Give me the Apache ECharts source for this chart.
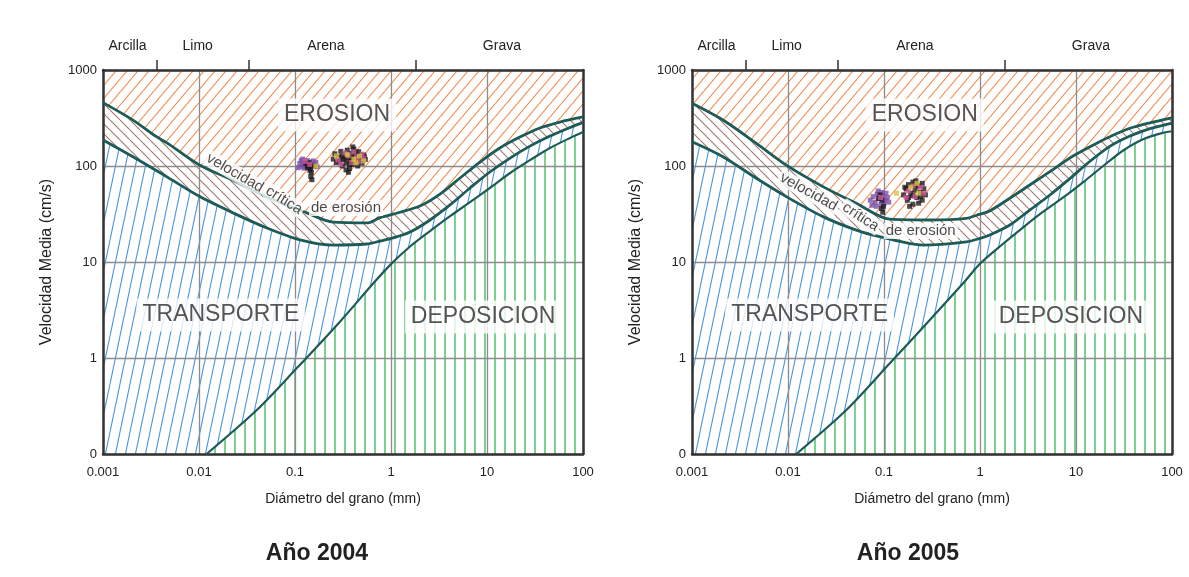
<!DOCTYPE html>
<html><head><meta charset="utf-8">
<script src="https://cdn.jsdelivr.net/npm/echarts@6/dist/echarts.min.js"></script>
<style>html,body{margin:0;padding:0;background:#fff}#c{width:1189px;height:577px}</style>
</head><body><div id="c"></div>
<script>
// ---------- data ----------
const classNames = ['Arcilla', 'Limo', 'Arena', 'Grava'];
const classLabelAt = [0.0018, 0.0097, 0.21, 14.3];   // mm, where the class names sit
const classBounds = [0.0036, 0.033, 1.8];            // mm, class boundaries (top ticks)
const panelTitles = ['Año 2004', 'Año 2005'];
const regionNames = ['EROSION', 'TRANSPORTE', 'DEPOSICION'];
const curveWords = ['velocidad', 'crítica', 'de erosión'];

// critical erosion velocity – upper bound [diameter mm, velocity cm/s]
const erosionUpper2004 = [[0.001,457],[0.00205,301],[0.0036,202],[0.00464,174],[0.0102,102],[0.0226,71],[0.051,47.5],[0.133,32.5],[0.249,26],[0.56,25.5],[0.77,29],[1.05,31.5],[1.24,33],[2.0,38.3],[3.24,51],[5.24,75],[8.45,110],[13.6,154],[22,200],[35.6,249],[57.5,287],[100,324]];
// critical erosion velocity – lower bound
const erosionLower2004 = [[0.001,187],[0.00205,125],[0.00464,77],[0.0102,48],[0.0226,32.5],[0.051,22.6],[0.113,17],[0.249,15],[0.56,15.4],[0.77,16.5],[1.05,17.8],[1.58,20.5],[2.55,27.4],[4.12,39.3],[6.65,59],[10.7,86.6],[17.4,121],[28,161],[45.3,205],[73.3,252],[100,285]];
// settling (deposition) velocity
const deposition2004 = [[0.012,0.1],[0.04,0.287],[0.104,0.78],[0.294,2.39],[0.655,6.0],[1.0,9.5],[1.58,14.5],[2.55,21],[4.12,30],[6.65,42],[10.7,59],[17.4,84.5],[28,115],[45.3,154],[73.3,196],[100,226]];

const erosionUpper2005 = [[0.001,450],[0.0021,301],[0.00468,172],[0.0096,102],[0.0231,61],[0.0515,40.8],[0.115,27.9],[0.3,27.4],[0.72,28.5],[1.0,31.5],[1.26,34],[2.1,47],[3.3,63.4],[5.35,87.3],[8.7,122],[14,159],[22.5,202],[36.5,247],[59,282],[100,318]];
const erosionLower2005 = [[0.001,179],[0.0021,125],[0.00468,74.5],[0.0096,48],[0.0231,29.7],[0.0515,21.5],[0.09,18.4],[0.255,15],[0.72,16.2],[1.0,17.6],[1.26,19.1],[2.05,24.3],[3.3,34.8],[5.35,49.9],[8.7,74.5],[14,112],[22.5,160],[36.5,205],[59,245],[100,280]];
const deposition2005 = [[0.0122,0.1],[0.0405,0.287],[0.115,0.88],[0.3,2.49],[0.667,6.0],[1.0,9.6],[1.74,15.5],[2.82,23],[4.55,33.4],[7.36,47],[11.9,68],[19.2,100],[31,145],[50,190],[81,222],[100,230]];

// measured samples (clusters of points)
const purple2004 = [[0.112,106],[0.116,114],[0.118,99],[0.122,101],[0.127,109],[0.131,98],[0.134,114],[0.138,104],[0.142,110],[0.146,99],[0.15,107],[0.155,113],[0.16,103],[0.124,95],[0.165,109],[0.17,98],[0.108,96],[0.12,118]];
const black2004 = [[0.13,106],[0.136,101],[0.14,108],[0.145,94],[0.148,86],[0.146,78],[0.15,72],[0.143,90],[0.155,100],[0.135,96],
  [0.25,118],[0.26,134],[0.27,108],[0.285,124],[0.3,142],[0.31,100],[0.32,117],[0.33,131],[0.34,107],[0.35,146],[0.36,121],[0.37,94],[0.38,112],[0.39,136],[0.40,104],[0.42,128],[0.44,114],[0.46,141],[0.48,120],[0.50,107],[0.52,130],[0.54,117],[0.36,86],[0.34,91],[0.45,100],[0.29,112],[0.41,150],[0.47,130],[0.39,122],[0.33,120],[0.43,138],[0.37,104],[0.31,126],[0.49,112],[0.4,158],[0.53,124]];
const pink2004 = [[0.28,116],[0.33,137],[0.39,109],[0.44,124],[0.5,133],[0.47,111],[0.3,104],[0.36,128],[0.142,104],[0.128,112],[0.41,140],[0.52,120]];
const yellow2004 = [[0.35,131],[0.41,118],[0.47,127],[0.27,127],[0.52,113],[0.165,100],[0.43,108]];

const purple2005 = [[0.072,44],[0.077,48],[0.081,42],[0.085,51],[0.089,46],[0.093,40],[0.097,49],[0.102,44],[0.108,47],[0.087,55],[0.095,53],[0.083,38],[0.1,41],[0.075,39],[0.105,52],[0.112,42]];
const black2005 = [[0.088,46],[0.095,44],[0.099,38],[0.091,50],[0.094,36],[0.097,33],
  [0.16,50],[0.17,58],[0.175,44],[0.18,64],[0.19,52],[0.2,40],[0.2,68],[0.21,56],[0.22,47],[0.23,62],[0.24,53],[0.25,44],[0.26,58],[0.27,50],[0.185,38],[0.215,70],[0.18,47],[0.23,41],[0.25,66],[0.2,49],[0.165,60],[0.21,62],[0.24,48]];
const pink2005 = [[0.18,55],[0.21,48],[0.24,60],[0.2,62],[0.17,47],[0.092,47],[0.26,52]];
const yellow2005 = [[0.19,60],[0.23,52],[0.22,66],[0.135,52]];

// label anchor points (data coords)
const regionAt2004 = [[0.274,340],[0.0169,2.8],[9.1,2.67]];
const regionAt2005 = [[0.266,340],[0.0168,2.8],[8.85,2.67]];
const wordAt2004 = [[0.0237,84.5],[0.0767,44],[0.34,36.5]];
const wordAt2005 = [[0.0164,53.6],[0.0571,29.4],[0.241,21]];
const wordRot2004 = [-30,-32,0];
const wordRot2005 = [-29,-33,0];

// ---------- styling helpers ----------
const FONT = "'Liberation Sans', Arial, sans-serif";
function hatch(w, h, color, kind, lw) {
  const c = document.createElement('canvas'); c.width = w; c.height = h;
  const g = c.getContext('2d'); g.fillStyle = '#fff'; g.fillRect(0, 0, w, h);
  g.strokeStyle = color; g.lineWidth = lw;
  if (kind === 'v') { g.fillStyle = color; g.fillRect(4, 0, 2, h); return { image: c, repeat: 'repeat' }; }
  g.beginPath();
  if (kind === '/') { for (const o of [-w, 0, w]) { g.moveTo(o, h); g.lineTo(o + w, 0); } }
  else { for (const o of [-w, 0, w]) { g.moveTo(o, 0); g.lineTo(o + w, h); } }
  g.stroke();
  return { image: c, repeat: 'repeat' };
}
const patOrange = hatch(11, 13, '#f4874a', '/', 1.1);
const patBrown = hatch(10, 10, '#a27a6c', '\\', 1.1);
const patBlue = hatch(10, 48, '#4a96dc', '/', 1.1);
const patGreen = hatch(10, 10, '#7fcf92', 'v', 1);
const CURVE = '#1d5b58';
const GRID = '#8c8c8c';
const SMOOTH = 0.3;

const xFmt = v => String(+(+v).toPrecision(2));
const yFmt = v => (v < 1 ? '0' : String(Math.round(v)));

function axesFor(gi) {
  const xs = [{
    gridIndex: gi, type: 'log', logBase: 10, min: 0.001, max: 100, position: 'bottom', z: 5,
    axisLine: { show: true, onZero: false, lineStyle: { color: '#333', width: 2.5 } },
    axisTick: { show: false },
    axisLabel: { margin: 12, fontSize: 13, color: '#222', fontFamily: FONT, formatter: xFmt },
    splitLine: { show: true, lineStyle: { color: GRID, width: 1.3 } },
    name: 'Diámetro del grano (mm)', nameLocation: 'middle', nameGap: 38,
    nameTextStyle: { fontSize: 14, color: '#222', fontFamily: FONT }
  }, {
    gridIndex: gi, type: 'value', min: -3, max: 2, position: 'top', z: 5,
    axisLine: { show: true, onZero: false, lineStyle: { color: '#333', width: 2.5 } },
    axisTick: { show: true, inside: false, length: 10, customValues: classBounds.map(Math.log10), lineStyle: { color: '#333', width: 1.5 } },
    axisLabel: { show: true, margin: 17, fontSize: 14, color: '#222', fontFamily: FONT,
      customValues: classLabelAt.map(Math.log10),
      formatter: v => { const i = classLabelAt.findIndex(p => Math.abs(Math.log10(p) - v) < 1e-6); return i >= 0 ? classNames[i] : ''; } },
    splitLine: { show: false }
  }];
  const ys = [{
    gridIndex: gi, type: 'log', logBase: 10, min: 0.1, max: 1000, position: 'left', z: 5,
    axisLine: { show: true, onZero: false, lineStyle: { color: '#333', width: 2.5 } },
    axisTick: { show: false },
    axisLabel: { margin: 6, fontSize: 13, color: '#222', fontFamily: FONT, formatter: yFmt },
    splitLine: { show: true, lineStyle: { color: GRID, width: 1.3 } },
    name: 'Velocidad Media (cm/s)', nameLocation: 'middle', nameGap: 48, nameRotate: 90,
    nameTextStyle: { fontSize: 16, color: '#222', fontFamily: FONT }
  }, {
    gridIndex: gi, type: 'log', logBase: 10, min: 0.1, max: 1000, position: 'right', z: 5,
    axisLine: { show: true, onZero: false, lineStyle: { color: '#333', width: 2.5 } },
    axisTick: { show: false }, axisLabel: { show: false }, splitLine: { show: false }
  }];
  return { xs, ys };
}

function panelSeries(gi, up, low, dep, clusters, regionAt, wordAt, wordRot) {
  const ax = { xAxisIndex: gi * 2, yAxisIndex: gi * 2 };
  const base = Object.assign({ type: 'line', symbol: 'none', smooth: SMOOTH, silent: true, animation: false }, ax);
  const out = [];
  out.push(Object.assign({}, base, { data: [[0.001, 1000], [100, 1000]], smooth: false, lineStyle: { width: 0 }, areaStyle: { color: patOrange, opacity: 1, origin: 'start' }, z: 1 }));
  out.push(Object.assign({}, base, { data: up, lineStyle: { width: 0 }, areaStyle: { color: patBrown, opacity: 1, origin: 'start' }, z: 2 }));
  out.push(Object.assign({}, base, { data: low, lineStyle: { width: 0 }, areaStyle: { color: patBlue, opacity: 1, origin: 'start' }, z: 3 }));
  out.push(Object.assign({}, base, { data: dep, lineStyle: { width: 0 }, areaStyle: { color: patGreen, opacity: 1, origin: 'start' }, z: 4 }));
  for (const d of [up, low]) out.push(Object.assign({}, base, { data: d, lineStyle: { color: CURVE, width: 2.8 }, z: 6 }));
  out.push(Object.assign({}, base, { data: dep, lineStyle: { color: CURVE, width: 2.2 }, z: 6 }));
  for (const [pts, col] of clusters) {
    out.push(Object.assign({ type: 'scatter', symbol: 'rect', symbolSize: 5, data: pts, itemStyle: { color: col }, z: 7, silent: true, animation: false }, ax));
  }
  out.push(Object.assign({
    type: 'scatter', symbolSize: 1, itemStyle: { color: 'rgba(0,0,0,0)' }, z: 8, silent: true, animation: false,
    data: regionAt.map((p, i) => ({ value: p, name: regionNames[i] })),
    label: { show: true, position: 'inside', formatter: '{b}', fontSize: 23, color: '#2a2a2a', fontFamily: FONT,
      backgroundColor: '#fff', padding: [6, 6, 4, 6] }
  }, ax));
  out.push(Object.assign({
    type: 'scatter', symbolSize: 1, itemStyle: { color: 'rgba(0,0,0,0)' }, z: 8, silent: true, animation: false,
    data: wordAt.map((p, i) => ({ value: p, name: curveWords[i], label: { rotate: wordRot[i] } })),
    label: { show: true, position: 'inside', formatter: '{b}', fontSize: 15, color: '#1e1e1e', fontFamily: FONT,
      backgroundColor: '#fff', padding: [1, 2, 0, 2] }
  }, ax));
  return out;
}

const a0 = axesFor(0), a1 = axesFor(1);
const option = {
  backgroundColor: '#fff',
  animation: false,
  title: [
    { text: panelTitles[0], left: 312, top: 537, textAlign: 'center', textStyle: { fontSize: 23, fontWeight: 'bold', color: '#222', fontFamily: FONT } },
    { text: panelTitles[1], left: 903, top: 537, textAlign: 'center', textStyle: { fontSize: 23, fontWeight: 'bold', color: '#222', fontFamily: FONT } }
  ],
  grid: [
    { left: 103, top: 70, width: 480, height: 384 },
    { left: 692, top: 70, width: 480, height: 384 }
  ],
  xAxis: a0.xs.concat(a1.xs),
  yAxis: a0.ys.concat(a1.ys),
  series: [].concat(
    panelSeries(0, erosionUpper2004, erosionLower2004, deposition2004,
      [[purple2004, '#7b4fa6'], [black2004, '#1e1a1e'], [pink2004, '#d0589c'], [yellow2004, '#d8c43c']],
      regionAt2004, wordAt2004, wordRot2004),
    panelSeries(1, erosionUpper2005, erosionLower2005, deposition2005,
      [[purple2005, '#7b4fa6'], [black2005, '#1e1a1e'], [pink2005, '#d0589c'], [yellow2005, '#d8c43c']],
      regionAt2005, wordAt2005, wordRot2005)
  )
};
const chart = echarts.init(document.getElementById('c'), null, { renderer: 'canvas' });
chart.setOption(option);
</script>
</body></html>
